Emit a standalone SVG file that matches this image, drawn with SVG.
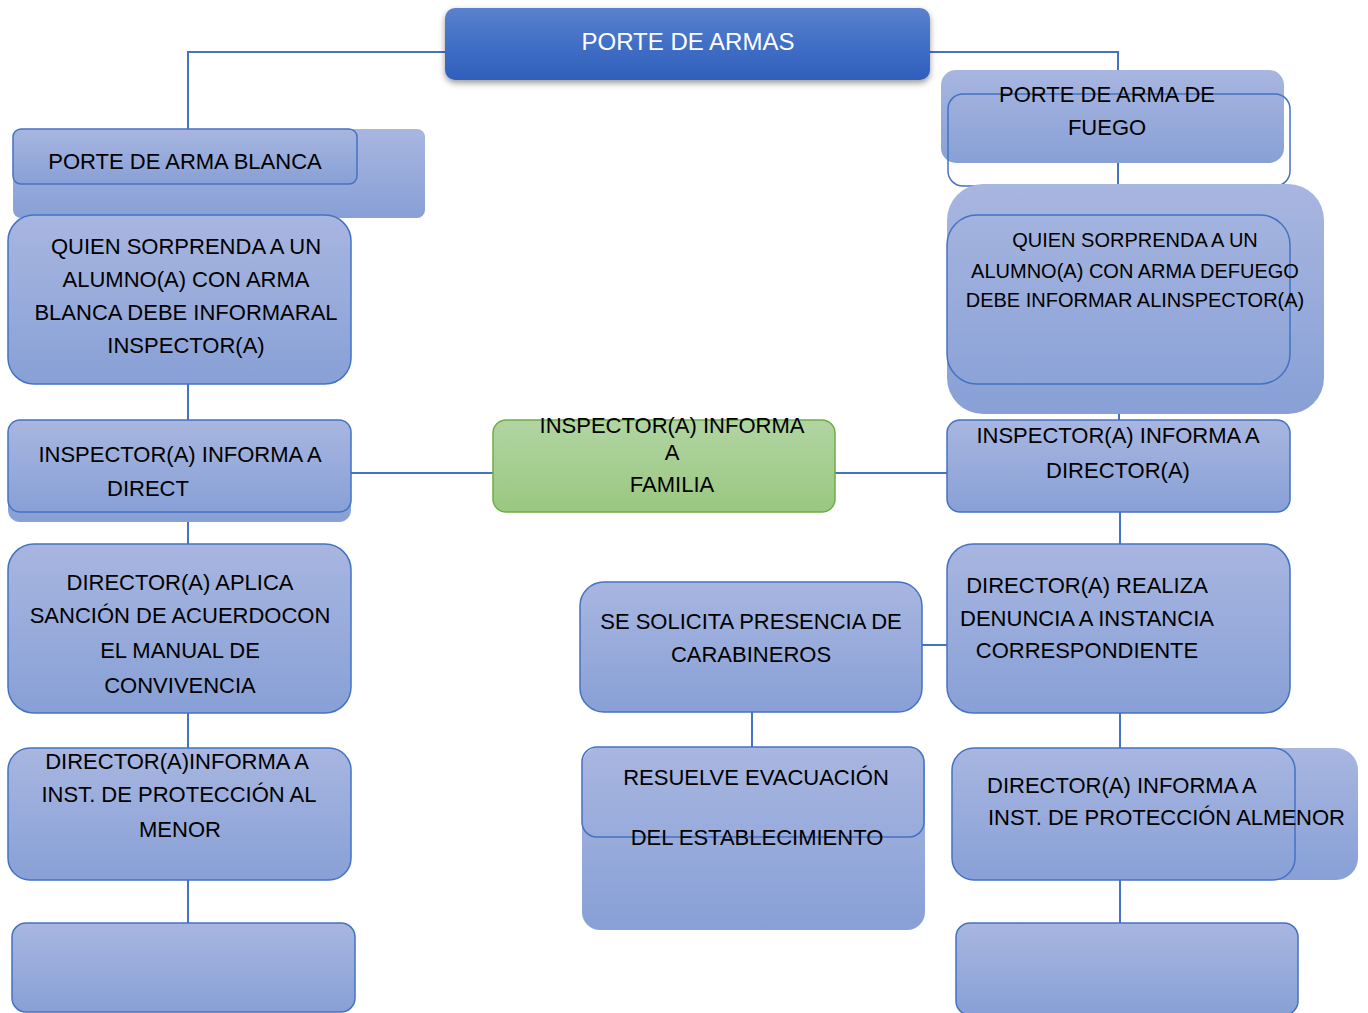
<svg xmlns="http://www.w3.org/2000/svg" width="1368" height="1013" viewBox="0 0 1368 1013">
  <defs>
    <linearGradient id="blueGrad" x1="0" y1="0" x2="0" y2="1">
      <stop offset="0" stop-color="#a8b6e0"/>
      <stop offset="1" stop-color="#88a0d6"/>
    </linearGradient>
    <linearGradient id="greenGrad" x1="0" y1="0" x2="0" y2="1">
      <stop offset="0" stop-color="#b1d5a2"/>
      <stop offset="1" stop-color="#9ac781"/>
    </linearGradient>
    <linearGradient id="titleGrad" x1="0" y1="0" x2="0" y2="1">
      <stop offset="0" stop-color="#5b81cd"/>
      <stop offset="0.5" stop-color="#416fc6"/>
      <stop offset="1" stop-color="#2f5fbb"/>
    </linearGradient>
    <filter id="shadow" x="-5%" y="-20%" width="110%" height="160%">
      <feDropShadow dx="0" dy="3" stdDeviation="3" flood-color="#000" flood-opacity="0.4"/>
    </filter>
  </defs>
  <style>
    .box { fill: url(#blueGrad); stroke: #4472c4; stroke-width: 1.5; }
    .back { fill: url(#blueGrad); stroke: none; }
    .outline { fill: none; stroke: #4472c4; stroke-width: 1.5; }
    .green { fill: url(#greenGrad); stroke: #70ad47; stroke-width: 1.5; }
    .conn { stroke: #4472c4; stroke-width: 2; fill: none; }
    text { font-family: "Liberation Sans", Arial, sans-serif; font-size: 22px; fill: #000; }
    .c { text-anchor: middle; }
    .small { font-size: 20px; }
    .title { font-size: 24px; fill: #ffffff; }
  </style>

  <g id="connectors">
    <polyline class="conn" points="445,52 188,52 188,129"/>
    <polyline class="conn" points="930,52 1118,52 1118,70"/>
    <line class="conn" x1="1118" y1="163" x2="1118" y2="184"/>
    <line class="conn" x1="188" y1="384" x2="188" y2="420"/>
    <line class="conn" x1="188" y1="520" x2="188" y2="544"/>
    <line class="conn" x1="188" y1="713" x2="188" y2="748"/>
    <line class="conn" x1="188" y1="880" x2="188" y2="923"/>
    <line class="conn" x1="351" y1="473" x2="493" y2="473"/>
    <line class="conn" x1="835" y1="473" x2="947" y2="473"/>
    <line class="conn" x1="1119" y1="412" x2="1119" y2="420"/>
    <line class="conn" x1="1120" y1="512" x2="1120" y2="544"/>
    <line class="conn" x1="922" y1="645" x2="947" y2="645"/>
    <line class="conn" x1="1120" y1="713" x2="1120" y2="748"/>
    <line class="conn" x1="1120" y1="880" x2="1120" y2="923"/>
    <line class="conn" x1="752" y1="712" x2="752" y2="747"/>
  </g>

  <g id="n-title">
    <rect x="445" y="8" width="485" height="72" rx="10" fill="url(#titleGrad)" filter="url(#shadow)"/>
    <text class="c title" x="688" y="50">PORTE DE ARMAS</text>
  </g>

  <g id="n-blanca">
    <rect class="back" x="13" y="129" width="412" height="89" rx="8"/>
    <rect class="box" x="13" y="129" width="344" height="55" rx="8"/>
    <text class="c" x="185" y="169">PORTE DE ARMA BLANCA</text>
  </g>

  <g id="n-quien-blanca">
    <rect class="box" x="8" y="215" width="343" height="169" rx="26"/>
    <text class="c" x="186" y="254">QUIEN SORPRENDA A UN</text>
    <text class="c" x="186" y="287">ALUMNO(A) CON ARMA</text>
    <text class="c" x="186" y="320">BLANCA DEBE INFORMARAL</text>
    <text class="c" x="186" y="353">INSPECTOR(A)</text>
  </g>

  <g id="n-insp-direct">
    <rect class="back" x="8" y="420" width="343" height="102" rx="12"/>
    <rect class="box" x="8" y="420" width="343" height="92" rx="12"/>
    <text class="c" x="180" y="462">INSPECTOR(A) INFORMA A</text>
    <text class="c" x="148" y="496">DIRECT</text>
  </g>

  <g id="n-aplica">
    <rect class="box" x="8" y="544" width="343" height="169" rx="26"/>
    <text class="c" x="180" y="590">DIRECTOR(A) APLICA</text>
    <text class="c" x="180" y="623">SANCIÓN DE ACUERDOCON</text>
    <text class="c" x="180" y="658">EL MANUAL DE</text>
    <text class="c" x="180" y="693">CONVIVENCIA</text>
  </g>

  <g id="n-informa-left">
    <rect class="box" x="8" y="748" width="343" height="132" rx="22"/>
    <text class="c" x="177" y="769">DIRECTOR(A)INFORMA A</text>
    <text class="c" x="179" y="802">INST. DE PROTECCIÓN AL</text>
    <text class="c" x="180" y="837">MENOR</text>
  </g>

  <g id="n-empty-left">
    <rect class="box" x="12" y="923" width="343" height="89" rx="14"/>
  </g>

  <g id="n-familia">
    <rect class="green" x="493" y="420" width="342" height="92" rx="13"/>
    <text class="c" x="672" y="433">INSPECTOR(A) INFORMA</text>
    <text class="c" x="672" y="460">A</text>
    <text class="c" x="672" y="492">FAMILIA</text>
  </g>

  <g id="n-fuego">
    <rect class="back" x="941" y="70" width="343" height="93" rx="15"/>
    <rect class="outline" x="948" y="94" width="342" height="92" rx="15"/>
    <text class="c" x="1107" y="102">PORTE DE ARMA DE</text>
    <text class="c" x="1107" y="135">FUEGO</text>
  </g>

  <g id="n-quien-fuego">
    <rect class="back" x="947" y="184" width="377" height="230" rx="36"/>
    <rect class="outline" x="947" y="215" width="343" height="169" rx="30"/>
    <text class="c small" x="1135" y="247">QUIEN SORPRENDA A UN</text>
    <text class="c small" x="1135" y="278">ALUMNO(A) CON ARMA DEFUEGO</text>
    <text class="c small" x="1135" y="307">DEBE INFORMAR ALINSPECTOR(A)</text>
  </g>

  <g id="n-insp-director">
    <rect class="box" x="947" y="420" width="343" height="92" rx="13"/>
    <text class="c" x="1118" y="443">INSPECTOR(A) INFORMA A</text>
    <text class="c" x="1118" y="478">DIRECTOR(A)</text>
  </g>

  <g id="n-denuncia">
    <rect class="box" x="947" y="544" width="343" height="169" rx="26"/>
    <text class="c" x="1087" y="593">DIRECTOR(A) REALIZA</text>
    <text class="c" x="1087" y="626">DENUNCIA A INSTANCIA</text>
    <text class="c" x="1087" y="658">CORRESPONDIENTE</text>
  </g>

  <g id="n-informa-right">
    <rect class="back" x="952" y="748" width="406" height="132" rx="22"/>
    <rect class="box" x="952" y="748" width="343" height="132" rx="22"/>
    <text x="987" y="793">DIRECTOR(A) INFORMA A</text>
    <text x="988" y="825">INST. DE PROTECCIÓN ALMENOR</text>
  </g>

  <g id="n-empty-right">
    <rect class="box" x="956" y="923" width="342" height="92" rx="14"/>
  </g>

  <g id="n-carabineros">
    <rect class="box" x="580" y="582" width="342" height="130" rx="24"/>
    <text class="c" x="751" y="629">SE SOLICITA PRESENCIA DE</text>
    <text class="c" x="751" y="662">CARABINEROS</text>
  </g>

  <g id="n-evacuacion">
    <rect class="back" x="582" y="747" width="343" height="183" rx="18"/>
    <rect class="outline" x="582" y="747" width="342" height="90" rx="15"/>
    <text class="c" x="756" y="785">RESUELVE EVACUACIÓN</text>
    <text class="c" x="757" y="845">DEL ESTABLECIMIENTO</text>
  </g>
</svg>
